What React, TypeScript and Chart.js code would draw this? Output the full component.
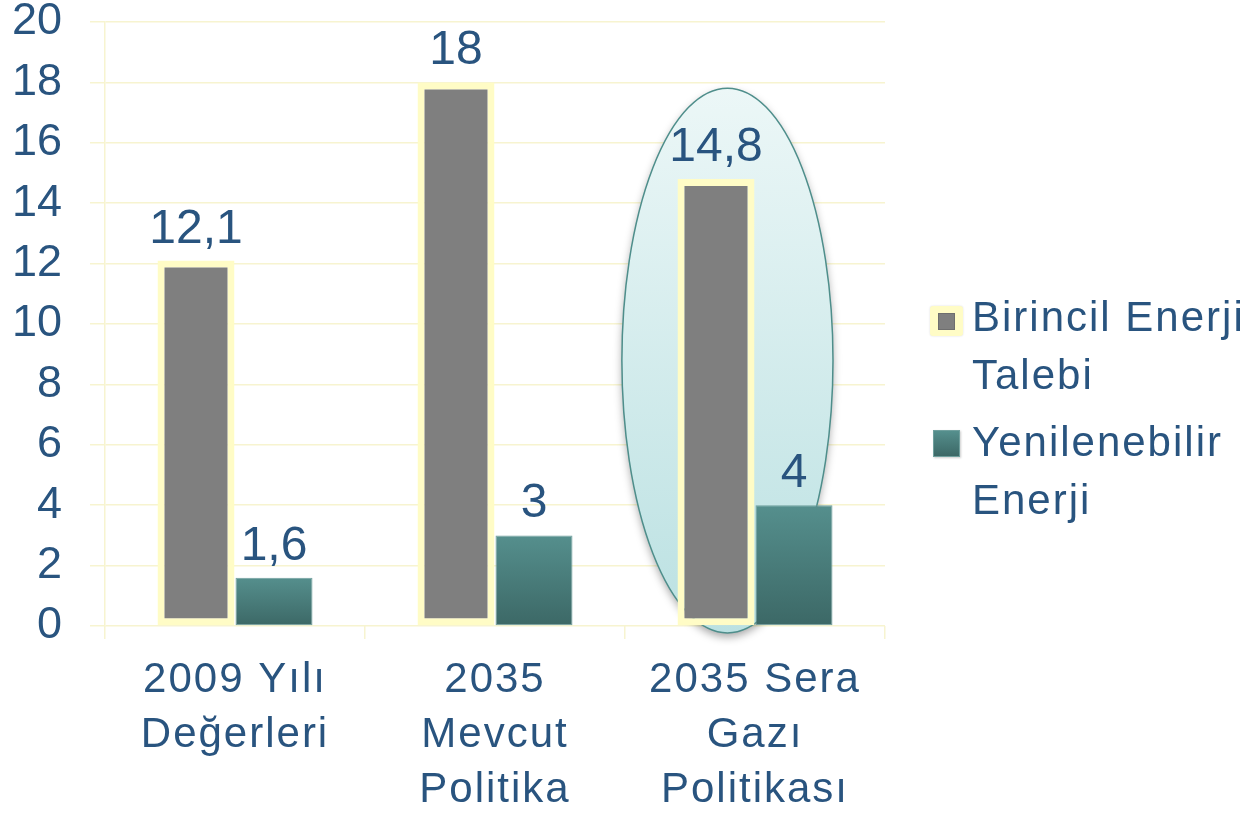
import React, { useEffect, useRef } from "react";
import { Chart, registerables } from "chart.js";

Chart.register(...registerables);

// ---- data ----
const categories: string[][] = [
  ["2009 Yılı", "Değerleri"],
  ["2035", "Mevcut", "Politika"],
  ["2035 Sera", "Gazı", "Politikası"],
];
const seriesNames: string[][] = [
  ["Birincil Enerji", "Talebi"],
  ["Yenilenebilir", "Enerji"],
];
const primaryDemand: number[] = [12.1, 18, 14.8];
const renewableEnergy: number[] = [1.6, 3, 4];
const yMin = 0;
const yMax = 20;
const yStep = 2;
const highlightedCategory = 2;

// ---- styles ----
const FONT = '"Liberation Sans", Arial, Helvetica, sans-serif';
const TEXT = "#29547f";
const GRID = "#f7f4d0";
const GREY = "#7f7f7f";
const YELLOW = "#fffcc6";
const TEAL_TOP = "#558f8d";
const TEAL_BOTTOM = "#3c6866";

const fmt = (v: number) => String(v).replace(".", ",");

const ellipsePlugin = {
  id: "ellipseHighlight",
  beforeDatasetsDraw(chart: any) {
    const { ctx, scales } = chart;
    const x = scales.x;
    const y = scales.y;
    const catW = x.getPixelForValue(1) - x.getPixelForValue(0);
    const cx = x.getPixelForValue(highlightedCategory) - catW * 0.106;
    const cy = y.getPixelForValue(8.79);
    const rx = catW * 0.406;
    const ry = Math.abs(y.getPixelForValue(0) - y.getPixelForValue(9.02));
    ctx.save();
    const g = ctx.createLinearGradient(0, cy - ry, 0, cy + ry);
    g.addColorStop(0, "#ecf7f7");
    g.addColorStop(1, "#bbe1e2");
    ctx.beginPath();
    ctx.ellipse(cx, cy, rx, ry, 0, 0, Math.PI * 2);
    ctx.shadowColor = "rgba(0,0,0,0.35)";
    ctx.shadowBlur = 8;
    ctx.shadowOffsetY = 4;
    ctx.fillStyle = g;
    ctx.fill();
    ctx.shadowColor = "transparent";
    ctx.lineWidth = 1.5;
    ctx.strokeStyle = "#4e8e8b";
    ctx.stroke();
    ctx.restore();
  },
};

const valueLabelPlugin = {
  id: "valueLabels",
  afterDatasetsDraw(chart: any) {
    const { ctx } = chart;
    ctx.save();
    ctx.font = `48px ${FONT}`;
    ctx.fillStyle = TEXT;
    ctx.textAlign = "center";
    ctx.textBaseline = "alphabetic";
    chart.data.datasets.forEach((ds: any, di: number) => {
      const meta = chart.getDatasetMeta(di);
      meta.data.forEach((el: any, i: number) => {
        ctx.fillText(fmt(ds.data[i]), el.x, el.y - 18);
      });
    });
    ctx.restore();
  },
};

function Legend() {
  const textStyle: React.CSSProperties = {
    position: "absolute",
    left: 972,
    fontFamily: FONT,
    fontSize: 42,
    lineHeight: "58px",
    letterSpacing: "2px",
    color: TEXT,
    whiteSpace: "nowrap",
  };
  return (
    <>
      <div
        style={{
          position: "absolute",
          left: 930,
          top: 306,
          width: 33,
          height: 30,
          background: YELLOW,
          borderRadius: 3,
          boxShadow: "0 0 2px rgba(0,0,0,0.15)",
        }}
      >
        <div
          style={{
            position: "absolute",
            left: 8,
            top: 7,
            width: 17,
            height: 17,
            background: GREY,
            boxSizing: "border-box",
            border: "1px solid #6e6e6e",
          }}
        />
      </div>
      <div style={{ ...textStyle, top: 288 }}>
        {seriesNames[0].map((l, i) => (
          <div key={i}>{l}</div>
        ))}
      </div>
      <div
        style={{
          position: "absolute",
          left: 933,
          top: 430,
          width: 27,
          height: 27,
          background: `linear-gradient(${TEAL_TOP}, ${TEAL_BOTTOM})`,
          boxSizing: "border-box",
          border: "1px solid #6f9f9d",
          boxShadow: "1px 1px 2px rgba(0,0,0,0.2)",
        }}
      />
      <div style={{ ...textStyle, top: 413 }}>
        {seriesNames[1].map((l, i) => (
          <div key={i}>{l}</div>
        ))}
      </div>
    </>
  );
}

export default function App() {
  const ref = useRef<HTMLCanvasElement | null>(null);

  useEffect(() => {
    if (!ref.current) return;
    const tealGradient = (c: any) => {
      const chart = c.chart;
      const { ctx, chartArea, scales } = chart;
      if (!chartArea || c.type !== "data" || !scales.y) return TEAL_TOP;
      const top = scales.y.getPixelForValue(c.raw);
      const bottom = scales.y.getPixelForValue(0);
      const g = ctx.createLinearGradient(0, top, 0, bottom);
      g.addColorStop(0, TEAL_TOP);
      g.addColorStop(1, TEAL_BOTTOM);
      return g;
    };

    const chart = new Chart(ref.current, {
      type: "bar",
      data: {
        labels: categories,
        datasets: [
          {
            label: seriesNames[0].join(" "),
            data: primaryDemand,
            backgroundColor: GREY,
            borderColor: YELLOW,
            borderWidth: 7,
            borderSkipped: false,
            categoryPercentage: 0.6,
            barPercentage: 0.987,
          },
          {
            label: seriesNames[1].join(" "),
            data: renewableEnergy,
            backgroundColor: tealGradient,
            borderColor: "#6f9f9d",
            borderWidth: 1,
            borderSkipped: false,
            categoryPercentage: 0.6,
            barPercentage: 0.987,
          },
        ],
      },
      options: {
        animation: false,
        responsive: true,
        maintainAspectRatio: false,
        layout: { padding: { top: 22, right: 367, bottom: 0, left: 0 } },
        plugins: {
          legend: { display: false },
          tooltip: { enabled: false },
          title: { display: false },
        },
        scales: {
          x: {
            grid: {
              display: true,
              drawOnChartArea: false,
              drawTicks: true,
              tickLength: 13,
              color: GRID,
              lineWidth: 1.5,
            },
            border: { display: false },
            ticks: {
              color: TEXT,
              padding: 14,
              font: { family: FONT, size: 42, lineHeight: 1.31 },
              maxRotation: 0,
              autoSkip: false,
            },
            afterFit: (s: any) => {
              s.height = 190;
              if (!s.__spaced) {
                const orig = s.drawLabels;
                s.drawLabels = function (area: any) {
                  const c = this.ctx;
                  const prev = c.letterSpacing;
                  c.letterSpacing = "2px";
                  orig.call(this, area);
                  c.letterSpacing = prev || "0px";
                };
                s.__spaced = true;
              }
            },
          },
          y: {
            min: yMin,
            max: yMax,
            grid: {
              color: GRID,
              lineWidth: 1.5,
              drawTicks: true,
              tickLength: 15,
            },
            border: { display: true, color: GRID, width: 1.5 },
            ticks: {
              stepSize: yStep,
              color: TEXT,
              padding: 28,
              font: { family: FONT, size: 45, lineHeight: 0.9 },
            },
            afterFit: (s: any) => {
              s.width = 105;
              s.paddingTop = 0;
              s.paddingBottom = 0;
            },
          },
        },
      },
      plugins: [ellipsePlugin, valueLabelPlugin],
    });
    return () => chart.destroy();
  }, []);

  return (
    <div
      style={{
        position: "fixed",
        left: 0,
        top: 0,
        width: 1252,
        height: 816,
        background: "#ffffff",
        overflow: "hidden",
      }}
    >
      <canvas ref={ref} />
      <Legend />
    </div>
  );
}
